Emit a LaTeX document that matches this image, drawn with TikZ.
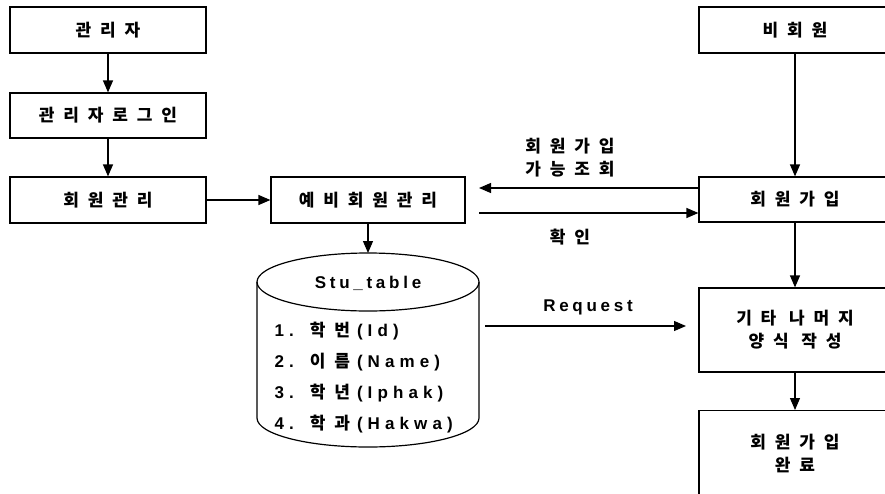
\documentclass[tikz,border=0pt]{standalone}
\usepackage{fontspec}
\usetikzlibrary{arrows.meta}
\newfontfamily\kr{Noto Sans CJK KR}[LetterSpace=52]
\newfontfamily\en{Liberation Sans}[LetterSpace=22]
\newfontfamily\enw{Liberation Sans}[LetterSpace=30]
\newcommand\enf{\en\bfseries\fontsize{17}{20}\selectfont}
\newcommand\enwf{\enw\bfseries\fontsize{17}{20}\selectfont}
\newcommand\krf{\kr\bfseries\fontsize{17}{20}\selectfont}
\begin{document}
\begin{tikzpicture}[x=1pt,y=-1pt,line width=1.2pt,
  box/.style={draw,minimum width=196pt,minimum height=46pt,inner sep=0pt,
    font=\kr\bfseries\fontsize{17}{23}\selectfont,align=center},
  arr/.style={-{Triangle[length=12pt,width=10pt]}},
  lbl/.style={font=\kr\bfseries\fontsize{17}{23}\selectfont,align=center,inner sep=0pt},
  enl/.style={font=\enf,inner sep=0pt},
  dbl/.style={anchor=west,inner sep=0pt}]
\useasboundingbox (0,0) rectangle (885,493);
\clip (0,0) rectangle (885,493);
% left column
\node[box] (admin) at (108,30) {관리자};
\node[box,minimum height=45pt] (login) at (108,115.5) {관리자로그인};
\node[box] (mem) at (108,200) {회원관리};
\node[box,minimum width=194pt] (pre) at (368,200) {예비회원관리};
% right column
\node[box,minimum width=192pt] (non) at (795,30) {비회원};
\node[box,minimum width=192pt,minimum height=45pt] (join) at (795,199.5) {회원가입};
\node[box,minimum width=192pt,minimum height=84pt] (form) at (795,330) {기타 나머지\\양식 작성};
\node[box,minimum width=192pt,minimum height=100pt,anchor=north] (done) at (795,410) {};
\node[lbl] (donetxt) at (795,453) {회원가입\\완료};
% cylinder
\draw (257,282) -- (257,418) arc[start angle=180,end angle=360,x radius=111pt,y radius=29pt] -- (479,282);
\draw (368,282) ellipse [x radius=111pt,y radius=29pt];
\coordinate (dbtop) at (368,253);
\node[enl] (dbtitle) at (368,283) {Stu\_table};
\node[dbl] (f1) at (274,331) {\enwf 1.\kern16pt\krf 학번\kern7pt\enwf (Id)};
\node[dbl] (f2) at (274,362) {\enwf 2.\kern16pt\krf 이름\kern7pt\enwf (Name)};
\node[dbl] (f3) at (274,393) {\enwf 3.\kern16pt\krf 학년\kern7pt\enwf (Iphak)};
\node[dbl] (f4) at (274,424) {\enwf 4.\kern16pt\krf 학과\kern7pt\enwf (Hakwa)};
% connectors
\draw[arr] (admin) -- (login);
\draw[arr] (login) -- (mem);
\draw[arr] (mem) -- (pre);
\draw[arr] (pre) -- (dbtop);
\draw[arr] (non) -- (join);
\draw[arr] (join) -- (form);
\draw[arr] (form) -- (done);
\coordinate (q1) at (479,188);
\coordinate (c1) at (479,213);
\draw[arr] (join.west |- q1) -- (q1);
\draw[arr] (c1) -- (join.west |- c1);
\coordinate (r0) at (485,326);
\coordinate (r1) at (686,326);
\draw[arr] (r0) -- (r1);
% labels
\node[lbl] (l1) at (570,158) {회원가입\\가능조회};
\node[lbl] (l2) at (570,237) {확인};
\node[enl] (l3) at (588,307) {Request};
\end{tikzpicture}
\end{document}
